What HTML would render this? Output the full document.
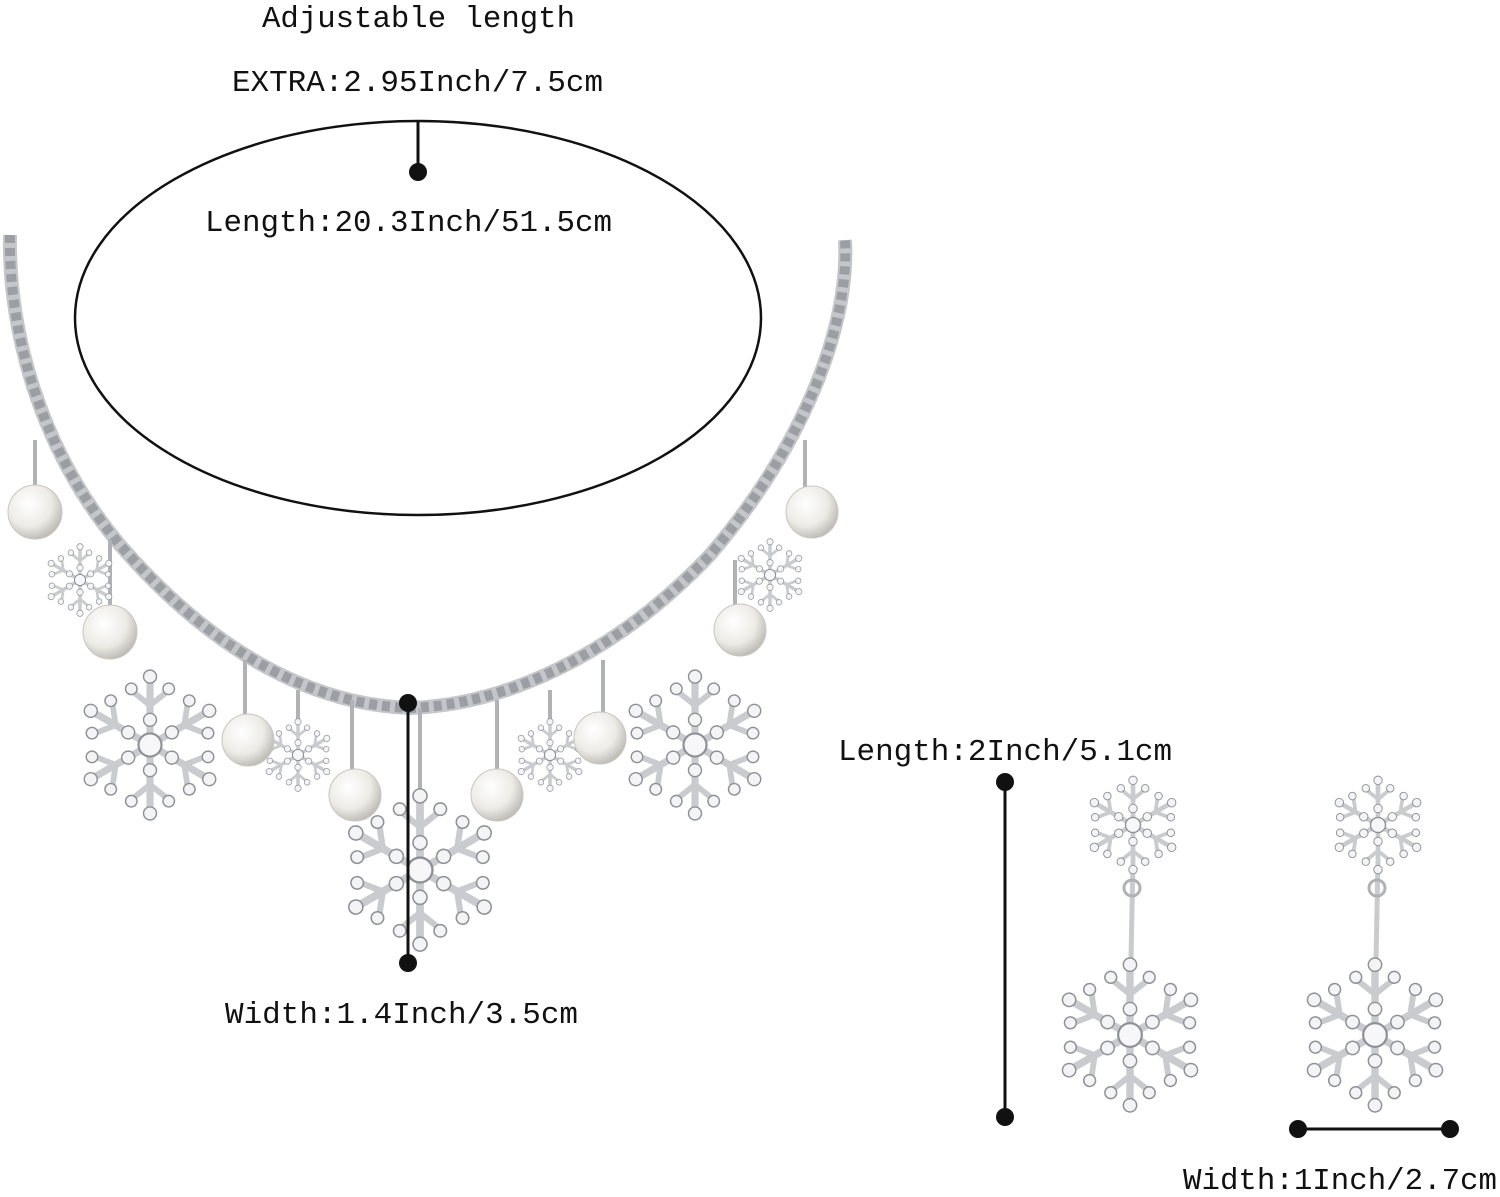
<!DOCTYPE html>
<html><head><meta charset="utf-8"><style>
html,body{margin:0;padding:0;background:#fff;}
svg{display:block;}
text{font-family:"Liberation Mono",monospace;font-size:31px;fill:#111;}
</style></head><body>
<svg width="1500" height="1197" viewBox="0 0 1500 1197" xmlns="http://www.w3.org/2000/svg">
<defs>
<radialGradient id="pearl" cx="0.38" cy="0.35" r="0.7">
<stop offset="0" stop-color="#ffffff"/><stop offset="0.6" stop-color="#ecebe6"/><stop offset="1" stop-color="#b9b7b0"/>
</radialGradient>
<g id="arm">
<line x1="0" y1="0" x2="0" y2="-100" stroke="#c9cbcf" stroke-width="10" stroke-linecap="round"/>
<line x1="0" y1="-55" x2="-25" y2="-75" stroke="#c9cbcf" stroke-width="8" stroke-linecap="round"/>
<line x1="0" y1="-55" x2="25" y2="-75" stroke="#c9cbcf" stroke-width="8" stroke-linecap="round"/>
<circle cx="0" cy="-35" r="9" fill="#f4f4f6" stroke="#8e9196" stroke-width="2"/>
<circle cx="0" cy="-95" r="9" fill="#f4f4f6" stroke="#8e9196" stroke-width="2"/>
<circle cx="-26" cy="-78" r="8" fill="#f4f4f6" stroke="#8e9196" stroke-width="2"/>
<circle cx="26" cy="-78" r="8" fill="#f4f4f6" stroke="#8e9196" stroke-width="2"/>
</g>
<g id="flake">
<use href="#arm"/><use href="#arm" transform="rotate(60)"/><use href="#arm" transform="rotate(120)"/>
<use href="#arm" transform="rotate(180)"/><use href="#arm" transform="rotate(240)"/><use href="#arm" transform="rotate(300)"/>
<circle r="16" fill="#f7f7f9" stroke="#8e9196" stroke-width="3"/>
</g>
</defs>

<!-- chain -->
<path id="ch" d="M10,235 C8,330 40,450 120,545 C220,660 320,705 410,708 C500,705 610,660 710,555 C800,450 850,330 845,240" fill="none" stroke="#c4c6ca" stroke-width="14"/>
<path d="M10,235 C8,330 40,450 120,545 C220,660 320,705 410,708 C500,705 610,660 710,555 C800,450 850,330 845,240" fill="none" stroke="#8a8d92" stroke-width="10" stroke-dasharray="8 5" opacity="0.7"/>

<!-- pendant links -->
<g stroke="#b0b2b6" stroke-width="4">
<line x1="35" y1="440" x2="35" y2="488"/><line x1="110" y1="540" x2="110" y2="608"/>
<line x1="245" y1="660" x2="245" y2="716"/><line x1="352" y1="700" x2="352" y2="771"/>
<line x1="497" y1="700" x2="497" y2="771"/><line x1="603" y1="660" x2="603" y2="714"/>
<line x1="735" y1="560" x2="735" y2="606"/><line x1="805" y1="440" x2="805" y2="488"/>
<line x1="298" y1="690" x2="298" y2="720"/><line x1="550" y1="690" x2="550" y2="720"/>
<line x1="420" y1="708" x2="420" y2="790"/>
</g>

<!-- snowflakes -->
<use href="#flake" transform="translate(150,745) scale(0.72)"/>
<use href="#flake" transform="translate(420,870) scale(0.78)"/>
<use href="#flake" transform="translate(695,745) scale(0.72)"/>
<use href="#flake" transform="translate(80,580) scale(0.35)"/>
<use href="#flake" transform="translate(298,755) scale(0.35)"/>
<use href="#flake" transform="translate(550,755) scale(0.35)"/>
<use href="#flake" transform="translate(770,575) scale(0.35)"/>
<line x1="1133" y1="860" x2="1131" y2="960" stroke="#c9cbcf" stroke-width="5"/>
<line x1="1378" y1="860" x2="1376" y2="960" stroke="#c9cbcf" stroke-width="5"/>
<circle cx="1132" cy="888" r="8" fill="none" stroke="#b0b2b6" stroke-width="3"/>
<circle cx="1377" cy="888" r="8" fill="none" stroke="#b0b2b6" stroke-width="3"/>
<use href="#flake" transform="translate(1133,825) scale(0.47)"/>
<use href="#flake" transform="translate(1378,825) scale(0.47)"/>
<use href="#flake" transform="translate(1130,1035) scale(0.74)"/>
<use href="#flake" transform="translate(1375,1035) scale(0.74)"/>

<!-- pearls -->
<g fill="url(#pearl)" stroke="#c8c6c0" stroke-width="1">
<circle cx="35" cy="512" r="27"/><circle cx="110" cy="632" r="27"/>
<circle cx="248" cy="740" r="26"/><circle cx="355" cy="795" r="26"/>
<circle cx="497" cy="795" r="26"/><circle cx="600" cy="738" r="26"/>
<circle cx="740" cy="630" r="26"/><circle cx="812" cy="512" r="26"/>
</g>

<!-- measurement graphics -->
<ellipse cx="418" cy="318" rx="343" ry="197" fill="none" stroke="#111" stroke-width="2.5"/>
<line x1="418" y1="120" x2="418" y2="172" stroke="#111" stroke-width="3"/>
<circle cx="418" cy="172" r="9" fill="#111"/>
<line x1="408" y1="703" x2="408" y2="963" stroke="#111" stroke-width="3"/>
<circle cx="408" cy="703" r="9" fill="#111"/><circle cx="408" cy="963" r="9" fill="#111"/>
<line x1="1005" y1="782" x2="1005" y2="1117" stroke="#111" stroke-width="3"/>
<circle cx="1005" cy="782" r="9" fill="#111"/><circle cx="1005" cy="1117" r="9" fill="#111"/>
<line x1="1298" y1="1129" x2="1450" y2="1129" stroke="#111" stroke-width="3"/>
<circle cx="1298" cy="1129" r="9" fill="#111"/><circle cx="1450" cy="1129" r="9" fill="#111"/>

<!-- labels -->
<text x="262" y="27" textLength="313" lengthAdjust="spacingAndGlyphs">Adjustable length</text>
<text x="232" y="91" textLength="371" lengthAdjust="spacingAndGlyphs">EXTRA:2.95Inch/7.5cm</text>
<text x="205" y="231" textLength="407" lengthAdjust="spacingAndGlyphs">Length:20.3Inch/51.5cm</text>
<text x="225" y="1023" textLength="353" lengthAdjust="spacingAndGlyphs">Width:1.4Inch/3.5cm</text>
<text x="838" y="760" textLength="334" lengthAdjust="spacingAndGlyphs">Length:2Inch/5.1cm</text>
<text x="1183" y="1189" textLength="314" lengthAdjust="spacingAndGlyphs">Width:1Inch/2.7cm</text>
</svg>
</body></html>
